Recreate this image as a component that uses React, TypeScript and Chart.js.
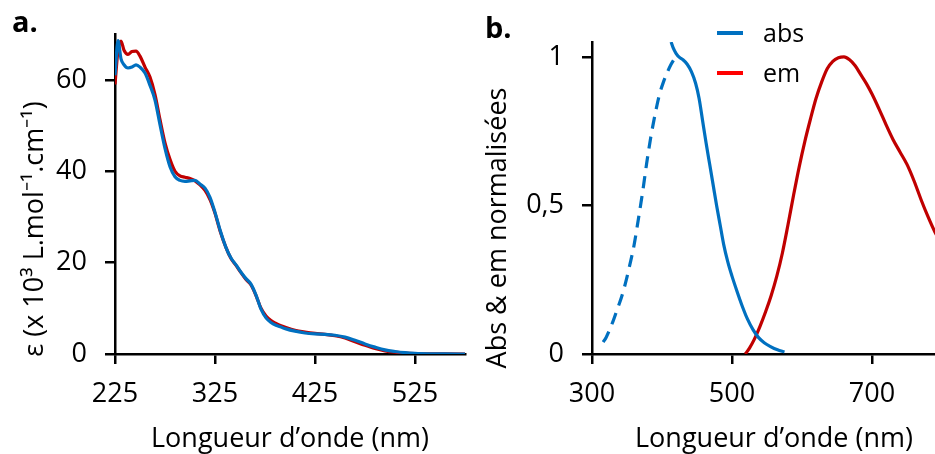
import { useEffect, useRef } from "react";
import { Chart, registerables } from "chart.js";

Chart.register(...registerables);

const FONT = "'Open Sans', sans-serif";
const BLUE = "#0070C0";
const RED = "#C00000";
const LEGEND_RED = "#FF0000";

// ---------- Panel a : molar absorption coefficient ----------
const wavelengthsA = [
  225, 228, 231, 234, 238, 242, 246, 250, 255, 260, 265, 270, 275, 280, 285, 290, 295, 300, 305, 310,
  315, 320, 325, 330, 336, 341, 346, 351, 356, 361, 366, 371, 376, 381, 386, 391, 396, 405, 415, 425,
  435, 445, 455, 465, 475, 485, 495, 505, 515, 525, 540, 555, 575,
];
const epsilonBlue = [
  61, 68.6, 64.6, 63.3, 62.6, 62.8, 63.3, 62.8, 61.5, 58.8, 55.6, 50.2, 45.0, 41.0, 38.8, 38.0, 37.8, 37.9, 38.0, 37.2,
  36.3, 34.3, 31.0, 27.2, 23.3, 21.0, 19.5, 17.9, 16.5, 15.3, 12.9, 9.8, 7.9, 6.9, 6.3, 5.9, 5.5, 5.0, 4.6, 4.4,
  4.3, 4.1, 3.7, 3.0, 2.2, 1.5, 0.9, 0.55, 0.3, 0.15, 0.05, 0.02, 0,
];
const epsilonRed = [
  59, 66.5, 68.5, 66.5, 65.6, 66.2, 66.3, 65.2, 62.8, 60.6, 56.8, 51.3, 46.2, 42.6, 40.0, 39.0, 38.7, 38.4, 37.9, 37.0,
  35.8, 33.8, 30.8, 27.0, 23.3, 20.9, 19.4, 17.8, 16.3, 15.1, 12.8, 10.0, 8.3, 7.3, 6.7, 6.2, 5.8, 5.2, 4.8, 4.5,
  4.3, 4.0, 3.5, 2.7, 1.9, 1.2, 0.7, 0.4, 0.2, 0.1, 0.03, 0.01, 0,
];
const xTicksA = [225, 325, 425, 525];
const yTicksA = [0, 20, 40, 60];

// ---------- Panel b : normalised absorption & emission ----------
const absDashedWl = [316, 320, 324, 330, 336, 342, 348, 354, 360, 366, 372, 378, 384, 390, 396, 402, 408, 413, 418];
const absDashedVal = [0.04, 0.055, 0.075, 0.11, 0.15, 0.19, 0.24, 0.3, 0.365, 0.45, 0.54, 0.64, 0.73, 0.805, 0.87, 0.915, 0.95, 0.975, 0.995];
const absWl = [413, 416, 420, 425, 430, 436, 442, 448, 453, 458, 463, 468, 473, 478, 483, 488, 494, 500, 507, 514, 522, 530, 538, 546, 555, 565, 575];
const absVal = [1.05, 1.03, 1.012, 0.998, 0.99, 0.975, 0.95, 0.911, 0.86, 0.785, 0.71, 0.64, 0.57, 0.5, 0.435, 0.37, 0.31, 0.262, 0.212, 0.165, 0.118, 0.082, 0.055, 0.038, 0.025, 0.014, 0.007];
const emWl = [519, 525, 532, 540, 548, 556, 564, 572, 580, 588, 596, 604, 612, 620, 628, 636, 644, 652, 660, 668, 676, 684, 692, 700, 710, 720, 730, 740, 750, 760, 770, 780, 790, 800, 810, 820];
const emVal = [0, 0.02, 0.05, 0.093, 0.142, 0.197, 0.262, 0.34, 0.435, 0.535, 0.63, 0.715, 0.79, 0.86, 0.915, 0.96, 0.985, 0.997, 1.0, 0.99, 0.97, 0.94, 0.91, 0.875, 0.825, 0.772, 0.722, 0.68, 0.638, 0.583, 0.52, 0.462, 0.41, 0.37, 0.335, 0.3];
const xTicksB = [300, 500, 700];
const yTicksB = [0, 0.5, 1];

const LABEL_ABS = "abs";
const LABEL_EM = "em";
const X_TITLE = "Longueur d\u2019onde (nm)";
const Y_TITLE_A = "ε (x 10³ L.mol⁻¹.cm⁻¹)";
const Y_TITLE_B = "Abs & em normalisées";

const toPoints = (xs: number[], ys: number[]) => xs.map((x, i) => ({ x, y: ys[i] }));

const gridOpts = {
  display: true,
  drawOnChartArea: false,
  drawTicks: true,
  tickLength: 10,
  tickWidth: 2.5,
  tickColor: "#000",
  color: "#000",
  lineWidth: 2.5,
};
const borderOpts = { display: true, color: "#000", width: 2.5 };
const tickFont = { family: FONT, size: 27 };

function xAxis(min: number, max: number, list: number[], height: number) {
  return {
    type: "linear" as const,
    min,
    max,
    afterBuildTicks: (s: any) => {
      s.ticks = list.map((v) => ({ value: v }));
    },
    afterFit: (s: any) => {
      s.height = height;
    },
    grid: gridOpts,
    border: borderOpts,
    ticks: { color: "#000", font: tickFont, padding: 14, maxRotation: 0, autoSkip: false, callback: (v: any) => String(v) },
    title: { display: true, text: X_TITLE, color: "#000", font: { family: FONT, size: 27, lineHeight: 1 }, padding: { top: 0, bottom: 1 } },
  };
}

function yAxis(min: number, max: number, list: number[], width: number) {
  return {
    type: "linear" as const,
    min,
    max,
    afterBuildTicks: (s: any) => {
      s.ticks = list.map((v) => ({ value: v }));
    },
    afterFit: (s: any) => {
      s.width = width;
    },
    grid: gridOpts,
    border: borderOpts,
    ticks: { color: "#000", font: tickFont, padding: 18, autoSkip: false, callback: (v: any) => String(v).replace(".", ",") },
    title: { display: false },
  };
}

// vertical axis title drawn at a chosen centre
const yTitlePlugin = {
  id: "yTitle",
  afterDraw(chart: any, _args: any, opts: any) {
    if (!opts || !opts.text) return;
    const ctx = chart.ctx;
    ctx.save();
    ctx.translate(opts.x, opts.y);
    ctx.rotate(-Math.PI / 2);
    ctx.font = `27px ${FONT}`;
    ctx.fillStyle = "#000";
    ctx.textAlign = "center";
    ctx.textBaseline = "middle";
    ctx.fillText(opts.text, 0, 0);
    ctx.restore();
  },
};

const panelLabelPlugin = {
  id: "panelLabel",
  afterDraw(chart: any, _args: any, opts: any) {
    const ctx = chart.ctx;
    ctx.save();
    ctx.font = `bold 29px ${FONT}`;
    ctx.fillStyle = "#000";
    ctx.textBaseline = "alphabetic";
    ctx.textAlign = "left";
    ctx.fillText(opts.text, opts.x, opts.y);
    ctx.restore();
  },
};

const lineLegendPlugin = {
  id: "lineLegend",
  afterDraw(chart: any, _args: any, opts: any) {
    if (!opts || !opts.items) return;
    const ctx = chart.ctx;
    ctx.save();
    opts.items.forEach((it: any, i: number) => {
      const y = opts.y + i * opts.rowGap;
      ctx.strokeStyle = it.color;
      ctx.lineWidth = 4;
      ctx.beginPath();
      ctx.moveTo(opts.x, y);
      ctx.lineTo(opts.x + opts.lineLen, y);
      ctx.stroke();
      ctx.font = `25px ${FONT}`;
      ctx.fillStyle = "#000";
      ctx.textBaseline = "middle";
      ctx.textAlign = "left";
      ctx.fillText(it.label, opts.x + opts.lineLen + opts.gap, y + 2);
    });
    ctx.restore();
  },
};

const lineDs = (label: string, data: any[], color: string, dash: number[] = []) => ({
  label,
  data,
  borderColor: color,
  backgroundColor: color,
  borderWidth: 3.2,
  borderDash: dash,
  pointRadius: 0,
  fill: false,
  cubicInterpolationMode: "monotone" as const,
});

export default function App() {
  const refA = useRef<HTMLCanvasElement>(null);
  const refB = useRef<HTMLCanvasElement>(null);

  useEffect(() => {
    const chartA = new Chart(refA.current!, {
      type: "line",
      data: {
        datasets: [
          lineDs("ε (bleu)", toPoints(wavelengthsA, epsilonBlue), BLUE),
          lineDs("ε (rouge)", toPoints(wavelengthsA, epsilonRed), RED),
        ],
      },
      options: {
        responsive: false,
        animation: false,
        devicePixelRatio: 1,
        layout: { padding: { top: 32, right: 5, left: 0, bottom: 0 } },
        scales: {
          x: xAxis(225, 575, xTicksA, 100),
          y: yAxis(0, 70, yTicksA, 115),
        },
        plugins: {
          legend: { display: false },
          tooltip: { enabled: false },
          panelLabel: { text: "a.", x: 12, y: 32 },
          yTitle: { text: Y_TITLE_A, x: 35, y: 229 },
        } as any,
      },
      plugins: [panelLabelPlugin, yTitlePlugin],
    });

    const chartB = new Chart(refB.current!, {
      type: "line",
      data: {
        datasets: [
          lineDs(LABEL_ABS, toPoints(absWl, absVal), BLUE),
          lineDs(LABEL_ABS + " (extrapolée)", toPoints(absDashedWl, absDashedVal), BLUE, [12, 8]),
          lineDs(LABEL_EM, toPoints(emWl, emVal), RED),
        ],
      },
      options: {
        responsive: false,
        animation: false,
        devicePixelRatio: 1,
        layout: { padding: { top: 42, right: 0, left: 0, bottom: 0 } },
        scales: {
          x: xAxis(300, 820, xTicksB, 100),
          y: yAxis(0, 1.05, yTicksB, 122),
        },
        plugins: {
          legend: { display: false },
          tooltip: { enabled: false },
          panelLabel: { text: "b.", x: 15, y: 38 },
          yTitle: { text: Y_TITLE_B, x: 28, y: 228 },
          lineLegend: {
            x: 247,
            y: 33,
            rowGap: 40,
            lineLen: 26,
            gap: 20,
            items: [
              { label: LABEL_ABS, color: BLUE },
              { label: LABEL_EM, color: LEGEND_RED },
            ],
          },
        } as any,
      },
      plugins: [panelLabelPlugin, yTitlePlugin, lineLegendPlugin],
    });

    return () => {
      chartA.destroy();
      chartB.destroy();
    };
  }, []);

  return (
    <div style={{ position: "fixed", left: 0, top: 0, width: 935, height: 454, overflow: "hidden", background: "#fff" }}>
      <canvas ref={refA} width={470} height={454} style={{ position: "absolute", left: 0, top: 0, width: 470, height: 454 }} />
      <canvas ref={refB} width={486} height={454} style={{ position: "absolute", left: 470, top: 0, width: 486, height: 454 }} />
    </div>
  );
}
